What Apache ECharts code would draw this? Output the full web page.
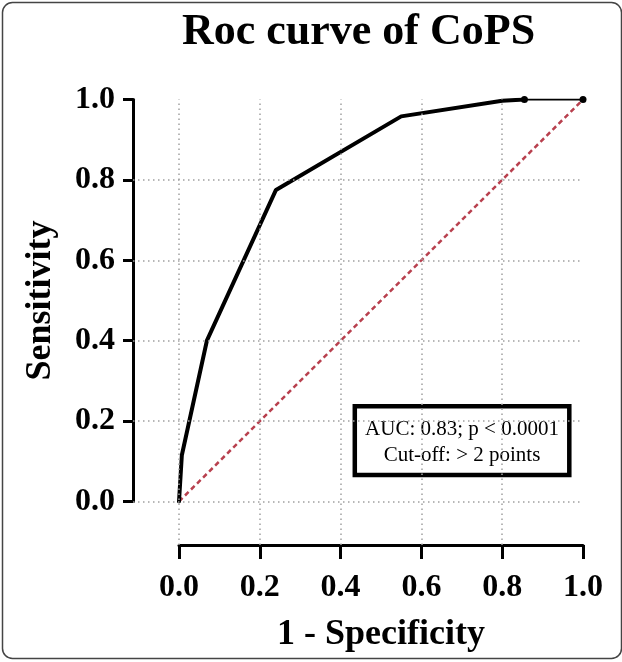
<!DOCTYPE html>
<html>
<head>
<meta charset="utf-8">
<script src="https://cdn.jsdelivr.net/npm/echarts@6/dist/echarts.min.js"></script>
<style>
  html, body { margin: 0; padding: 0; background: #fff; }
  #chart { width: 622px; height: 662px; }
</style>
</head>
<body>
<div id="chart"></div>
<script>
// ---- data ----
var titleText = 'Roc curve of CoPS';
var xName = '1 - Specificity';
var yName = 'Sensitivity';
var rocFpr = [0, 0.007, 0.069, 0.24, 0.55, 0.80, 0.855];
var rocTpr = [0, 0.115, 0.40, 0.775, 0.958, 0.997, 1.0];
var tailFpr = [0.855, 1.0];
var tailTpr = [1.0, 1.0];
var diagX = [0, 1];
var diagY = [0, 1];
var tickStep = 0.2;
var gridLineValues = [0, 0.2, 0.4, 0.6, 0.8];
var annotationLines = ['AUC: 0.83; p < 0.0001', 'Cut-off: > 2 points'];

var FONT = "'Liberation Serif', 'Times New Roman', serif";

function pairs(xs, ys) { return xs.map(function (x, i) { return [x, ys[i]]; }); }

// layout
var plotLeft = 179, plotTop = 99.5, plotW = 404, plotH = 402;
var yAxisOffset = 46, xAxisOffset = 43.5;
var ext = {
  xMin: -yAxisOffset / plotW,
  yMin: -xAxisOffset / plotH
};

var chart = echarts.init(document.getElementById('chart'), null, { renderer: 'canvas' });

var gridMarks = [];
gridLineValues.forEach(function (v) { gridMarks.push({ xAxis: v }); });
gridLineValues.forEach(function (v) { gridMarks.push({ yAxis: v }); });

var option = {
  backgroundColor: '#ffffff',
  animation: false,
  title: {
    text: titleText,
    left: 182,
    top: 11,
    padding: 0,
    textStyle: { fontFamily: FONT, fontWeight: 'bold', fontSize: 44, color: '#000' }
  },
  grid: [
    { left: plotLeft, top: plotTop, width: plotW, height: plotH },
    { left: plotLeft - yAxisOffset, top: plotTop, width: plotW + yAxisOffset, height: plotH + xAxisOffset }
  ],
  xAxis: [
    {
      gridIndex: 0, type: 'value', min: 0, max: 1, interval: tickStep,
      offset: xAxisOffset,
      name: xName, nameLocation: 'middle', nameGap: 72,
      nameTextStyle: { fontFamily: FONT, fontWeight: 'bold', fontSize: 36, color: '#000' },
      axisLine: { show: true, onZero: false, lineStyle: { color: '#000', width: 3 } },
      axisTick: { show: true, inside: false, length: 14, lineStyle: { color: '#000', width: 3 } },
      axisLabel: {
        margin: 27, color: '#000', fontFamily: FONT, fontWeight: 'bold', fontSize: 32,
        formatter: function (v) { return v.toFixed(1); }
      },
      splitLine: { show: false }
    },
    {
      gridIndex: 1, type: 'value', min: ext.xMin, max: 1, show: false,
      splitLine: { show: false }
    }
  ],
  yAxis: [
    {
      gridIndex: 0, type: 'value', min: 0, max: 1, interval: tickStep,
      offset: yAxisOffset,
      name: yName, nameLocation: 'middle', nameGap: 74,
      nameTextStyle: { fontFamily: FONT, fontWeight: 'bold', fontSize: 36, color: '#000' },
      axisLine: { show: true, onZero: false, lineStyle: { color: '#000', width: 3 } },
      axisTick: { show: true, inside: false, length: 10, lineStyle: { color: '#000', width: 3 } },
      axisLabel: {
        margin: 18, color: '#000', fontFamily: FONT, fontWeight: 'bold', fontSize: 32,
        formatter: function (v) { return v.toFixed(1); }
      },
      splitLine: { show: false }
    },
    {
      gridIndex: 1, type: 'value', min: ext.yMin, max: 1, show: false,
      splitLine: { show: false }
    }
  ],
  series: [
    {
      type: 'line', xAxisIndex: 1, yAxisIndex: 1, data: [], z: 1,
      silent: true,
      markLine: {
        silent: true, symbol: 'none', label: { show: false },
        lineStyle: { color: '#a0a0a0', width: 1.5, type: [1.5, 3.5] },
        emphasis: { disabled: true },
        data: gridMarks
      }
    },
    {
      type: 'line', xAxisIndex: 0, yAxisIndex: 0, z: 2,
      data: pairs(diagX, diagY), showSymbol: false, symbol: 'none',
      lineStyle: { color: '#b8404e', width: 2.5, type: [5, 3.5] }
    },
    {
      type: 'line', xAxisIndex: 0, yAxisIndex: 0, z: 3,
      data: pairs(rocFpr, rocTpr), showSymbol: false, symbol: 'none',
      lineStyle: { color: '#000', width: 4, cap: 'round', join: 'round' }
    },
    {
      type: 'line', xAxisIndex: 0, yAxisIndex: 0, z: 4,
      data: pairs(tailFpr, tailTpr), symbol: 'circle', symbolSize: 7, showSymbol: true,
      itemStyle: { color: '#000' },
      lineStyle: { color: '#000', width: 2 }
    }
  ],
  graphic: [
    {
      type: 'rect', left: 0, top: 0, z: 0, silent: true,
      shape: { x: 4, y: 4, width: 619, height: 656, r: 10 },
      style: { fill: 'none', stroke: '#444', lineWidth: 1.5 }
    },
    {
      type: 'group', z: 100, silent: true,
      children: [
        {
          type: 'rect',
          shape: { x: 354.8, y: 406.3, width: 214.5, height: 68.7 },
          style: { fill: '#fff', stroke: '#000', lineWidth: 4.5 }
        },
        {
          type: 'text', x: 462, y: 429.2,
          style: { text: annotationLines[0], fill: '#000', font: '21px ' + FONT, textAlign: 'center', textVerticalAlign: 'middle' }
        },
        {
          type: 'text', x: 462, y: 455.8,
          style: { text: annotationLines[1], fill: '#000', font: '21px ' + FONT, textAlign: 'center', textVerticalAlign: 'middle' }
        }
      ]
    }
  ]
};

chart.setOption(option);
</script>
</body>
</html>
